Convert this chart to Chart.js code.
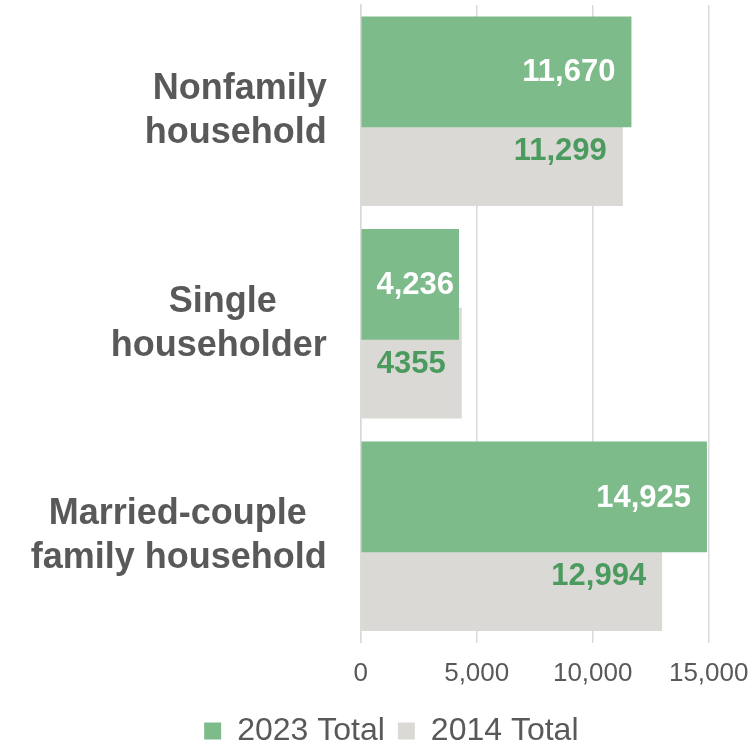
<!DOCTYPE html>
<html><head><meta charset="utf-8">
<script src="https://cdn.jsdelivr.net/npm/chart.js@4/dist/chart.umd.min.js"></script>
<style>html,body{margin:0;padding:0;background:#fff;}</style>
</head><body>
<canvas id="c" width="753" height="744"></canvas>
<script>
const categories = [['Nonfamily','household'],['Single','householder'],['Married-couple','family household']];
const seriesNames = ['2023 Total','2014 Total'];
const values2023 = [11670, 4236, 14925];
const values2014 = [11299, 4355, 12994];
const labels2023 = ['11,670','4,236','14,925'];
const labels2014 = ['11,299','4355','12,994'];
const xTickMin = 0, xTickMax = 15000, xTickStep = 5000;

const FONT = '"Liberation Sans", Arial, sans-serif';
const TEXT = '#595959';
const GREEN = '#7dbb8a';
const GRAY = '#dad9d6';
const LABEL_GREEN = '#4b9b5f';
const GRID = '#d9d9d9';
const YFONT = 36;

const mctx = document.createElement('canvas').getContext('2d');
function centerLines(lines, font) {
  mctx.font = font;
  const ws = lines.map(l => mctx.measureText(l).width);
  const max = Math.max(...ws);
  const sp = mctx.measureText(' ').width;
  return lines.map((l, i) => l + ' '.repeat(Math.round((max - ws[i]) / 2 / sp)));
}

const barLabels = {
  id: 'barLabels',
  afterDatasetsDraw(chart) {
    const ctx = chart.ctx;
    const sets = [{labels: labels2023, color: '#ffffff'}, {labels: labels2014, color: LABEL_GREEN}];
    ctx.save();
    ctx.font = 'bold 31px ' + FONT;
    ctx.textBaseline = 'middle';
    ctx.textAlign = 'right';
    chart.data.datasets.forEach((ds, di) => {
      const meta = chart.getDatasetMeta(di);
      meta.data.forEach((el, i) => {
        const txt = sets[di].labels[i];
        const w = ctx.measureText(txt).width;
        let xr = el.x - 16;
        if (xr - w < el.base + 15) xr = el.base + 15 + w;
        ctx.fillStyle = sets[di].color;
        ctx.fillText(txt, xr, el.y + 1);
      });
    });
    ctx.restore();
  }
};

const shiftLegend = {
  id: 'shiftLegend',
  afterLayout(chart) {
    const lg = chart.legend;
    if (!lg) return;
    const dx = 37, dy = 13;
    lg.left += dx; lg.right += dx; lg.top += dy; lg.bottom += dy;
  }
};

new Chart(document.getElementById('c'), {
  type: 'bar',
  data: {
    labels: categories,
    datasets: [
      {label: seriesNames[0], data: values2023, backgroundColor: GREEN, borderWidth: 0},
      {label: seriesNames[1], data: values2014, backgroundColor: GRAY, borderWidth: 0}
    ]
  },
  options: {
    indexAxis: 'y',
    responsive: false,
    animation: false,
    devicePixelRatio: 1,
    categoryPercentage: 0.7406,
    barPercentage: 1.4076,
    layout: {padding: {top: 5, right: 44.3, left: 0, bottom: 0}},
    plugins: {
      legend: {
        position: 'bottom',
        labels: {
          color: TEXT,
          font: {family: FONT, size: 32},
          boxWidth: 17,
          boxHeight: 17,
          padding: 13
        }
      },
      tooltip: {enabled: false}
    },
    scales: {
      x: {
        min: xTickMin,
        max: xTickMax,
        ticks: {
          stepSize: xTickStep,
          color: TEXT,
          font: {family: FONT, size: 26},
          padding: 16,
          callback: v => Number(v).toLocaleString('en-US')
        },
        grid: {color: GRID, lineWidth: 1.5, drawTicks: false},
        border: {display: false},
        afterFit: s => { s.height = 46.4; s.paddingLeft = 0; s.paddingRight = 0; }
      },
      y: {
        ticks: {
          color: TEXT,
          font: {family: FONT, size: YFONT, weight: 'bold', lineHeight: 44 / YFONT},
          padding: 34,
          callback: function(v) {
            return centerLines(categories[v], 'bold ' + YFONT + 'px ' + FONT);
          }
        },
        grid: {display: false, drawTicks: false},
        border: {display: true, color: GRID, width: 1.5},
        afterFit: s => { s.width = 360.7; s.paddingTop = 0; s.paddingBottom = 0; }
      }
    }
  },
  plugins: [barLabels, shiftLegend]
});
</script>
</body></html>
